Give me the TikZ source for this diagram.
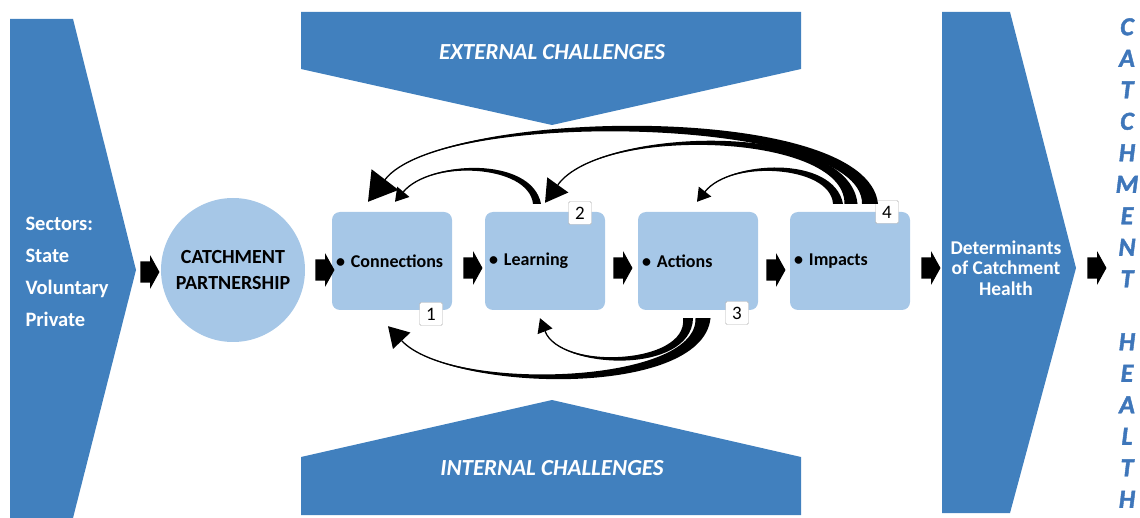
\documentclass[tikz,border=0pt]{standalone}
\usepackage{fontspec}
\setmainfont{Carlito}
\newfontfamily\heavyfont{Carlito}[FakeBold=1.6]
\usetikzlibrary{arrows.meta, positioning, calc, shapes.arrows}

\definecolor{chevblue}{RGB}{65,128,190}
\definecolor{boxblue}{RGB}{166,199,231}
\definecolor{lettblue}{RGB}{62,118,186}

% tapered feedback arrow:
% tail, half width, c1, c2, tip, c1 offset, head length, head half width
\newcommand{\taper}[8]{%
  \coordinate (hb) at ($#5!#7!#4$);
  \fill ($#1-(#2,0)$) .. controls ($#3-#6$) and #4 .. (hb)
    .. controls #4 and ($#3+#6$) .. ($#1+(#2,0)$) -- cycle;
  \draw[line width=1.3pt] #1 .. controls #3 and #4 .. (hb);
  \fill #5 -- ($(hb)!#8!90:#5$) -- ($(hb)!#8!-90:#5$) -- cycle;
}

\tikzset{
  stage/.style={fill=boxblue, rounded corners=8pt, minimum width=120pt,
    minimum height=98pt, text width=112pt, align=left, inner sep=2pt,
    inner xsep=4pt, font=\bfseries\fontsize{18}{22}\selectfont},
  tag/.style={draw=gray!60, fill=white, minimum size=23pt, inner sep=0pt,
    rounded corners=1.5pt, font=\fontsize{19}{19}\selectfont},
  flow/.style={single arrow, fill=black, inner xsep=0pt, inner ysep=10.5pt,
    single arrow head extend=6pt, single arrow tip angle=122, minimum height=19pt},
  banner/.style={text=white, font=\bfseries\itshape\fontsize{23}{26}\selectfont},
}

\begin{document}
\begin{tikzpicture}[x=1pt, y=-1pt]
  \useasboundingbox (0,0) rectangle (1140,518);

  % side chevrons
  \fill[chevblue] (10,19) -- (73,19) -- (136,270) -- (73,518) -- (10,518) -- cycle;
  \fill[chevblue] (942,12) -- (1010,12) -- (1076,268) -- (1010,513) -- (942,513) -- cycle;

  % challenge banners
  \fill[chevblue] (301,12) -- (801,12) -- (801,69) -- (552,125) -- (301,69) -- cycle;
  \fill[chevblue] (301,515) -- (301,457) -- (552,400) -- (801,457) -- (801,515) -- cycle;
  \node[banner] (ext) at (552,52) {EXTERNAL CHALLENGES};
  \node[banner] (int) at (552,468) {INTERNAL CHALLENGES};

  \node[anchor=west, align=left, text=white,
    font=\bfseries\fontsize{20.5}{32}\selectfont] (sectors) at (22,272)
    {Sectors:\\State\\Voluntary\\Private};

  \node[circle, fill=boxblue, minimum size=144pt, align=center,
    font=\bfseries\fontsize{20}{26}\selectfont] (partner) at (233,270)
    {CATCHMENT\\PARTNERSHIP};

  % the four stages
  \node[stage] (conn) at (392,261) {\textbullet\ Connections};
  \node[stage] (learn) at (545,261) {\textbullet\ Learning};
  \node[stage] (act) at (698,261) {\textbullet\ Actions};
  \node[stage] (imp) at (850,261) {\textbullet\ Impacts};

  \node[align=center, text=white, font=\bfseries\fontsize{19.5}{20.5}\selectfont]
    (health) at (1006,268) {Determinants\\of Catchment\\Health};

  \node[align=center, text=lettblue,
    font=\heavyfont\bfseries\itshape\fontsize{26}{31.5}\selectfont]
    (word) at (1127,263) {C\\A\\T\\C\\H\\M\\E\\N\\T\\\mbox{}\\H\\E\\A\\L\\T\\H};

  % flow arrows
  \foreach \fx/\fy [count=\i] in {147/272, 322/270, 470/268, 620/268,
      773/270, 928/268, 1094/268}
    \node[flow] (fa\i) at (\fx,\fy) {};

  % number tags
  \node[tag] (n1) at (431,314) {1};
  \node[tag] (n2) at (580,213) {2};
  \node[tag] (n3) at (737,313) {3};
  \node[tag] (n4) at (887,212) {4};

  % feedback loops
  \coordinate (t1) at ($(learn.north)+(-8,-8)$);
  \coordinate (h1) at ($(conn.north)+(3,-10)$);
  \coordinate (t2) at ($(imp.north)+(-12,-8)$);
  \coordinate (h2) at ($(act.north)+(-1,-10)$);
  \coordinate (t3) at ($(imp.north)+(1,-8)$);
  \coordinate (h3) at ($(learn.north)+(0,-9)$);
  \coordinate (t4) at ($(imp.north)+(20,-8)$);
  \coordinate (h4) at ($(conn.north)+(-24,-10)$);
  \coordinate (t5) at ($(act.south)+(-10,8)$);
  \coordinate (h5) at ($(learn.south)+(-5,8)$);
  \coordinate (t6) at ($(act.south)+(5,8)$);
  \coordinate (h6) at ($(conn.south)+(-4,16)$);

  \taper{(t1)}{4}{(530,160)}{(430,160)}{(h1)}{(1.5,-4)}{13pt}{8pt}
  \taper{(t2)}{5}{(832,160)}{(730,160)}{(h2)}{(1.5,-5)}{13pt}{8pt}
  \taper{(t3)}{6.5}{(847,126)}{(600,126)}{(h3)}{(2,-6)}{22pt}{13pt}
  \taper{(t4)}{8}{(865,108)}{(440,108)}{(h4)}{(2,-8)}{28pt}{17pt}
  \taper{(t5)}{5}{(690,370)}{(560,370)}{(h5)}{(1.5,5)}{14pt}{8pt}
  \taper{(t6)}{7.5}{(700,392)}{(450,392)}{(h6)}{(2,7)}{20pt}{12pt}

\end{tikzpicture}
\end{document}
